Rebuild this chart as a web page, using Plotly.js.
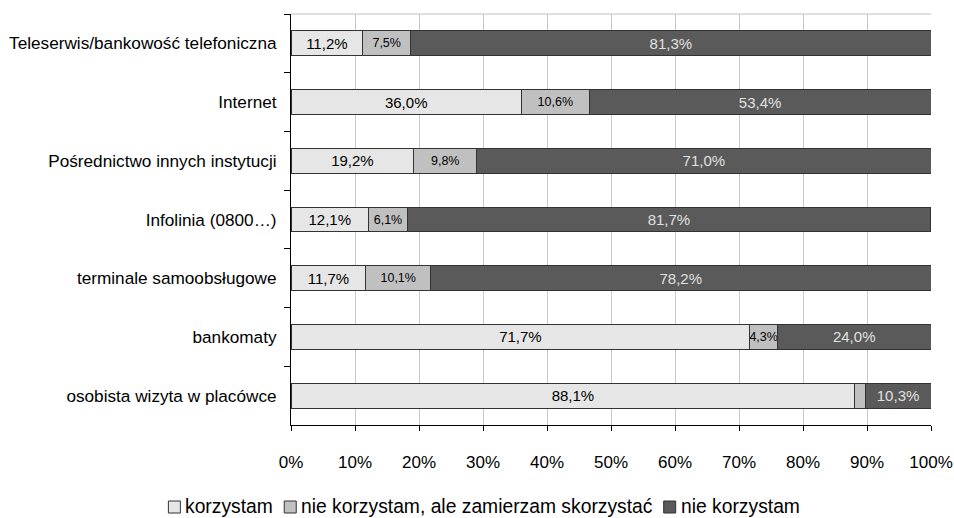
<!DOCTYPE html>
<html>
<head>
<meta charset="utf-8">
<script src="https://cdn.plot.ly/plotly-3.0.1.min.js"></script>
<style>
  html, body { margin: 0; padding: 0; background: #fff; }
  #chart { width: 954px; height: 518px; }
</style>
</head>
<body>
<div id="chart"></div>
<script>
// Channels of contact with the bank, top to bottom
const categories = [
  'Teleserwis/bankowość telefoniczna',
  'Internet',
  'Pośrednictwo innych instytucji',
  'Infolinia (0800…)',
  'terminale samoobsługowe',
  'bankomaty',
  'osobista wizyta w placówce'
];

// Shares of respondents (%)
const korzystam = [11.2, 36.0, 19.2, 12.1, 11.7, 71.7, 88.1];
const zamierzam = [7.5, 10.6, 9.8, 6.1, 10.1, 4.3, 1.6];
const nieKorzystam = [81.3, 53.4, 71.0, 81.7, 78.2, 24.0, 10.3];

// Which middle-segment values get a printed label
const zamierzamShown = [true, true, true, true, true, true, false];

const seriesNames = ['korzystam', 'nie korzystam, ale zamierzam skorzystać', 'nie korzystam'];
const seriesColors = ['#e6e6e6', '#c0c0c0', '#5a5a5a'];
const xTickVals = [0, 10, 20, 30, 40, 50, 60, 70, 80, 90, 100];
const xTickText = xTickVals.map(v => v + '%');

const fmt = v => v.toFixed(1).replace('.', ',') + '%';
const FONT = 'Liberation Sans, Arial, sans-serif';
const edge = { color: '#333333', width: 1 };

// Page geometry
const W = 954, H = 518;
const M = { l: 291, r: 23, t: 14, b: 93 };
const plotW = W - M.l - M.r;
const plotH = H - M.t - M.b;
const pxToPaperX = px => (px - M.l) / plotW;
const pxToPaperY = py => (H - M.b - py) / plotH;

function barTrace(name, values, labels, fill, textColor, textSize) {
  return {
    type: 'bar',
    orientation: 'h',
    name: name,
    y: categories,
    x: values,
    text: labels,
    textposition: 'inside',
    insidetextanchor: 'middle',
    textangle: 0,
    constraintext: 'none',
    cliponaxis: false,
    textfont: { family: FONT, size: textSize, color: textColor },
    marker: { color: fill, line: edge },
    hoverinfo: 'skip',
    showlegend: false
  };
}

const data = [
  barTrace(seriesNames[0], korzystam, korzystam.map(fmt), seriesColors[0], '#000000', 15),
  barTrace(seriesNames[1], zamierzam,
    zamierzam.map((v, i) => zamierzamShown[i] ? fmt(v) : ''), seriesColors[1], '#000000', 12.5),
  barTrace(seriesNames[2], nieKorzystam, nieKorzystam.map(fmt), seriesColors[2], '#e0e0e0', 15)
];

// Compact legend row below the chart: swatch + label per series
const LEG_FONT = 19.3;
const measureCtx = document.createElement('canvas').getContext('2d');
measureCtx.font = LEG_FONT + 'px "Liberation Sans", Arial, sans-serif';
const swatch = 12, swatchGap = 5, itemGap = 11;
const textWidths = seriesNames.map(n => measureCtx.measureText(n).width);
const legendWidth = textWidths.reduce((s, w) => s + swatch + swatchGap + w, 0) + itemGap * (seriesNames.length - 1);
const legendCenterX = 484, legendCenterY = 506;

const legendShapes = [];
const legendAnnotations = [];
let cursor = legendCenterX - legendWidth / 2;
seriesNames.forEach((name, i) => {
  legendShapes.push({
    type: 'rect', xref: 'paper', yref: 'paper',
    x0: pxToPaperX(cursor), x1: pxToPaperX(cursor + swatch),
    y0: pxToPaperY(legendCenterY + 1 + swatch / 2), y1: pxToPaperY(legendCenterY + 1 - swatch / 2),
    fillcolor: seriesColors[i],
    line: { color: '#333333', width: 1 }
  });
  cursor += swatch + swatchGap;
  legendAnnotations.push({
    xref: 'paper', yref: 'paper',
    x: pxToPaperX(cursor - 2), y: pxToPaperY(legendCenterY),
    xanchor: 'left', yanchor: 'middle',
    text: name, showarrow: false,
    font: { family: FONT, size: LEG_FONT, color: '#000000' }
  });
  cursor += textWidths[i] + itemGap;
});

const layout = {
  width: W,
  height: H,
  margin: M,
  paper_bgcolor: '#ffffff',
  plot_bgcolor: '#ffffff',
  barmode: 'stack',
  bargap: 0.576,
  font: { family: FONT, size: 16, color: '#000000' },
  showlegend: false,
  xaxis: {
    range: [0, 100],
    tickvals: xTickVals,
    ticktext: xTickText,
    showgrid: true,
    gridcolor: '#c8c8c8',
    gridwidth: 1,
    zeroline: false,
    showline: true,
    linecolor: '#000000',
    linewidth: 1,
    ticks: 'outside',
    ticklen: 5,
    tickcolor: '#000000',
    ticklabelstandoff: 17,
    tickfont: { family: FONT, size: 17, color: '#000000' },
    automargin: false,
    fixedrange: true
  },
  yaxis: {
    type: 'category',
    autorange: 'reversed',
    tickson: 'boundaries',
    showgrid: false,
    zeroline: false,
    showline: true,
    linecolor: '#000000',
    linewidth: 1,
    ticks: 'outside',
    ticklen: 6,
    tickcolor: '#000000',
    ticklabelstandoff: 10,
    tickfont: { family: FONT, size: 17.2, color: '#000000' },
    automargin: false,
    fixedrange: true
  },
  shapes: [
    {
      type: 'line', xref: 'paper', yref: 'paper',
      x0: 0, x1: 1, y0: 1, y1: 1,
      line: { color: '#c0c0c0', width: 1 },
      layer: 'below'
    }
  ].concat(legendShapes),
  annotations: legendAnnotations
};

Plotly.newPlot('chart', data, layout, { displayModeBar: false, staticPlot: true });
</script>
</body>
</html>
